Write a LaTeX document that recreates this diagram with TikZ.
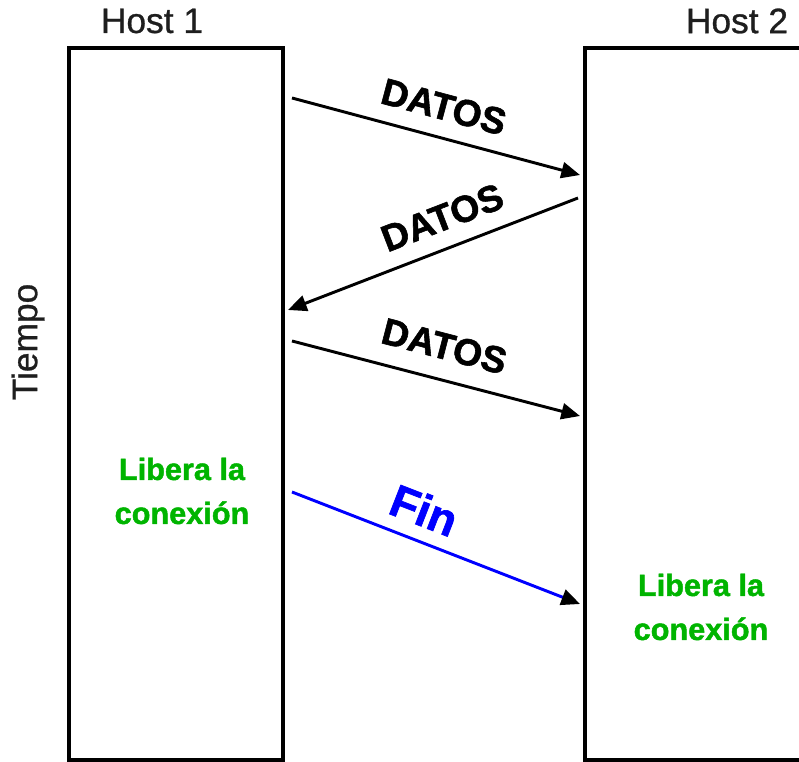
\documentclass[tikz,border=0pt]{standalone}
\usepackage{fontspec}
\setmainfont{Liberation Sans}[BoldFeatures={FakeBold=1.5}]
\newfontfamily\hostfont{Liberation Sans}[FakeBold=0.8]
\usetikzlibrary{arrows.meta}
\definecolor{libgreen}{RGB}{0,180,0}
\definecolor{hostgray}{RGB}{30,30,30}
\begin{document}
\begin{tikzpicture}
    [
    x=0.75pt,
    y=-0.75pt,
    host/.style={
      draw=black,
      line width=2.6pt
    },
    hostlabel/.style={
      text=hostgray,
      font=\hostfont\fontsize{26.5}{30}\selectfont
    },
    msg/.style={
      line width=2.2pt,
      -{Triangle[length=14pt,width=12pt,color=black]}
    },
    msglabel/.style={
      font=\bfseries\fontsize{28}{30}\selectfont,
      sloped,
      inner sep=0pt
    },
    release/.style={
      text=libgreen,
      align=center,
      font=\bfseries\fontsize{23}{33}\selectfont,
      inner sep=0pt
    }
    ]
    \useasboundingbox (0,0) rectangle (799,762);
    \clip (0,0) rectangle (799,762);

    % hosts
    \draw[host] (69,48) rectangle (283,760);
    \draw[host] (585,48) rectangle (812,760);
    \node[hostlabel] (h1) at (152,21) {Host 1};
    \node[hostlabel] (h2) at (737,21) {Host 2};
    \node[hostlabel, rotate=90] (time) at (28,342) {Tiempo};

    % message ends
    \coordinate (d1s) at (292,98);
    \coordinate (d1e) at (580,175);
    \coordinate (d2s) at (578,198);
    \coordinate (d2e) at (288,310);
    \coordinate (d3s) at (292,341);
    \coordinate (d3e) at (580,416);
    \coordinate (fs) at (292,492);
    \coordinate (fe) at (580,604);

    % messages
    \draw[msg] (d1s) -- node[msglabel, above=12pt] (l1) {DATOS} (d1e);
    \draw[msg] (d2s) -- node[msglabel, pos=0.43, above=12pt] (l2) {DATOS} (d2e);
    \draw[msg] (d3s) -- node[msglabel, above=14pt] (l3) {DATOS} (d3e);
    \draw[msg, blue] (fs) -- node[msglabel, pos=0.42, above=10pt, text=blue,
      font=\bfseries\fontsize{34}{36}\selectfont] (lf) {Fin} (fe);

    \node[release] (r1) at (182,491) {Libera la\\conexión};
    \node[release] (r2) at (701,607) {Libera la\\conexión};
  \end{tikzpicture}
\end{document}
